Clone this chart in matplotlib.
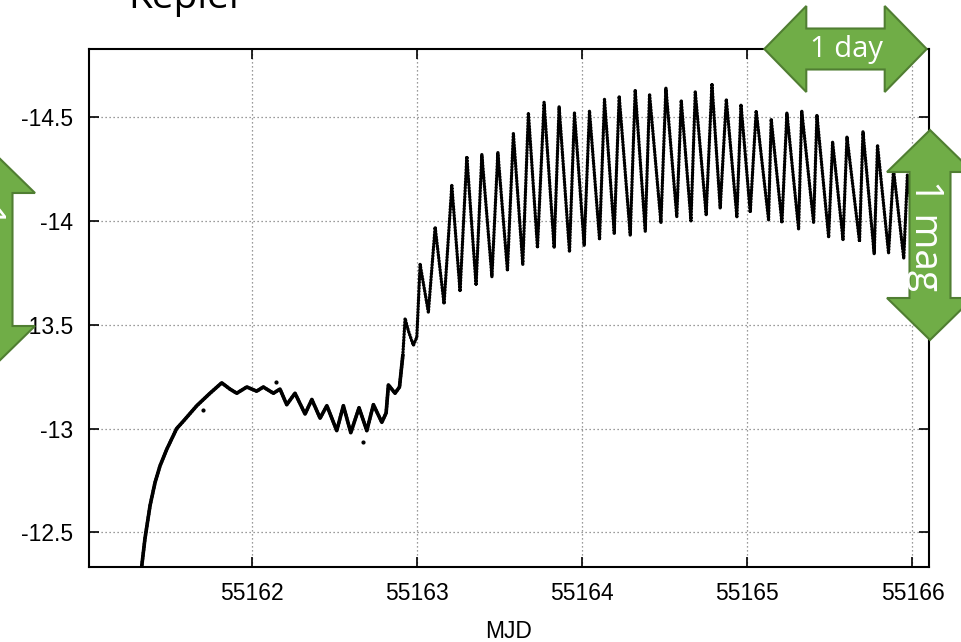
import matplotlib
matplotlib.use("Agg")
import matplotlib.pyplot as plt
from matplotlib.patches import Polygon

# light curve (MJD, magnitude) - peaks and troughs
mjd = [55161.325, 55161.350, 55161.381, 55161.411, 55161.441, 55161.482, 55161.542,
       55161.582, 55161.664, 55161.744, 55161.815, 55161.865, 55161.906, 55161.967,
       55162.027, 55162.067, 55162.128, 55162.168, 55162.209, 55162.259, 55162.320,
       55162.361, 55162.411, 55162.452, 55162.512, 55162.552, 55162.597, 55162.647,
       55162.694, 55162.734, 55162.785, 55162.811, 55162.825, 55162.865, 55162.892,
       55162.912, 55162.926, 55162.946, 55162.976, 55162.997, 55163.017, 55163.067,
       55163.108, 55163.162, 55163.209, 55163.259, 55163.300, 55163.356, 55163.391,
       55163.452, 55163.488, 55163.546, 55163.582, 55163.639, 55163.673, 55163.728,
       55163.768, 55163.829, 55163.859, 55163.922, 55163.952, 55164.011, 55164.043,
       55164.104, 55164.134, 55164.193, 55164.223, 55164.290, 55164.320, 55164.381,
       55164.407, 55164.476, 55164.506, 55164.572, 55164.599, 55164.658, 55164.684,
       55164.750, 55164.785, 55164.835, 55164.872, 55164.936, 55164.961, 55165.017,
       55165.053, 55165.128, 55165.144, 55165.209, 55165.239, 55165.310, 55165.329,
       55165.401, 55165.421, 55165.492, 55165.516, 55165.579, 55165.603, 55165.679,
       55165.700, 55165.768, 55165.788, 55165.855, 55165.885, 55165.947, 55165.969,
       55166.026]
mag = [-12.30, -12.47, -12.63, -12.74, -12.82, -12.90, -13.00,
       -13.035, -13.11, -13.17, -13.22, -13.19, -13.17, -13.20,
       -13.18, -13.20, -13.17, -13.19, -13.115, -13.17, -13.07,
       -13.14, -13.05, -13.11, -12.99, -13.11, -12.98, -13.10,
       -12.99, -13.115, -13.03, -13.075, -13.21, -13.17, -13.20,
       -13.35, -13.53, -13.47, -13.40, -13.44, -13.79, -13.56,
       -13.97, -13.60, -14.17, -13.66, -14.31, -13.69, -14.32,
       -13.73, -14.33, -13.76, -14.42, -13.79, -14.52, -13.87,
       -14.57, -13.87, -14.55, -13.85, -14.52, -13.88, -14.53,
       -13.91, -14.585, -13.94, -14.60, -13.93, -14.63, -13.95,
       -14.61, -13.99, -14.64, -14.02, -14.58, -14.00, -14.62,
       -14.03, -14.66, -14.06, -14.585, -14.02, -14.56, -14.04,
       -14.53, -14.005, -14.49, -13.99, -14.52, -13.96, -14.53,
       -13.99, -14.51, -13.92, -14.38, -13.91, -14.405, -13.90,
       -14.43, -13.84, -14.365, -13.845, -14.245, -13.82, -14.22,
       -13.86]

# a few stray points
out_mjd = [55161.704, 55162.142, 55162.673]
out_mag = [-13.09, -13.225, -12.936]

xticks = [55162, 55163, 55164, 55165, 55166]
yticks = [-14.5, -14, -13.5, -13, -12.5]
ytick_labels = ['-14.5', '-14', '-13.5', '-13', '-12.5']

fig = plt.figure(figsize=(9.61, 6.42), dpi=100)
ax = fig.add_axes([89/961, 1 - 566.7/642, (929-89)/961, (566.7-49)/642])

# dense dotted look like the gnuplot points
ax.plot(mjd, mag, color='black', lw=2.4, ls=(0, (0.15, 0.75)), dash_capstyle='round',
        solid_joinstyle='round', zorder=3)
ax.plot(mjd[:36], mag[:36], color='black', lw=2.6, zorder=3)
ax.scatter(out_mjd, out_mag, s=4, color='black', zorder=3)

ax.set_xlim(55161.011, 55166.10)
ax.set_ylim(-12.335, -14.827)
ax.set_xticks(xticks)
ax.set_xticklabels([str(t) for t in xticks])
ax.set_yticks(yticks)
ax.set_yticklabels(ytick_labels)
ax.grid(True, color='#7a7a7a', lw=0.9, ls=(0, (1, 2.2)))
ax.tick_params(direction='in', length=7, width=1.2, top=True, right=True,
               labelsize=16.5, colors='black')
ax.tick_params(axis='x', pad=11)
ax.tick_params(axis='y', pad=11.5)
for lab in ax.get_xticklabels() + ax.get_yticklabels():
    lab.set_fontfamily('Liberation Sans')
for sp in ax.spines.values():
    sp.set_linewidth(1.5)
ax.set_xlabel('MJD', fontsize=16.5, fontfamily='Liberation Sans', labelpad=11)

# overlay for the green slide arrows, in pixel units
ov = fig.add_axes([0, 0, 1, 1], zorder=10)
ov.set_xlim(0, 961)
ov.set_ylim(642, 0)
ov.axis('off')
ov.patch.set_alpha(0)


def double_arrow(cx, cy, half_len, vertical, head=42, head_w=43, stem_w=20.5):
    L = half_len
    pts = [(-L, 0), (-L + head, -head_w), (-L + head, -stem_w), (L - head, -stem_w),
           (L - head, -head_w), (L, 0), (L - head, head_w), (L - head, stem_w),
           (-L + head, stem_w), (-L + head, head_w)]
    if vertical:
        pts = [(cx + b, cy + a) for a, b in pts]
    else:
        pts = [(cx + a, cy + b) for a, b in pts]
    ov.add_patch(Polygon(pts, closed=True, facecolor='#70AD47', edgecolor='#507E32',
                         lw=1.5, clip_on=False))


double_arrow(845.5, 49, 81.2, False)
ov.text(846, 50, '1 day', color='white', fontsize=21, fontfamily='Open Sans',
        ha='center', va='center')
double_arrow(930, 235, 105, True)
ov.text(925, 236, '1 mag', color='white', fontsize=28, fontfamily='Open Sans',
        ha='center', va='center', rotation=-90)
double_arrow(-8, 259.5, 108.5, True)
ov.text(-13, 259, '1 mag', color='white', fontsize=28, fontfamily='Open Sans',
        ha='center', va='center', rotation=-90)

fig.text(128/961, 1 - 8/642, 'Kepler', fontsize=28, fontfamily='Open Sans',
         ha='left', va='baseline', color='black')

fig.savefig('out.png', dpi=100)
